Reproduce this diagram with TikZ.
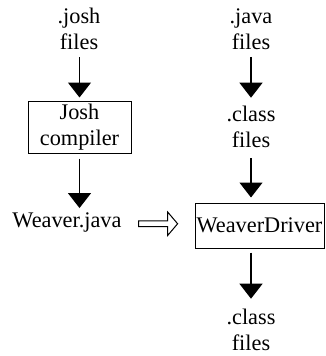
\documentclass[tikz,border=0pt]{standalone}
\usepackage{fontspec}
\setmainfont{Liberation Serif}
\usetikzlibrary{arrows.meta,calc}
\begin{document}
\begin{tikzpicture}[x=1pt,y=-1pt,
  every node/.style={font=\fontsize{22.3}{26.5}\selectfont, align=center, inner sep=0pt},
  label/.style={},
  box/.style={draw, line width=1pt, inner sep=0pt},
  flow/.style={line width=1.2pt, -{Triangle[width=23pt,length=15pt]}},
  hollow/.style={line width=1pt, line join=miter}]
\useasboundingbox (0,0) rectangle (325,356);

% left column: Josh sources through the Josh compiler
\node[label] (josh) at (79,29) {.josh\\files};
\node[box, minimum width=103pt, minimum height=52pt] (jc) at (79.5,127) {Josh\\compiler};
\node[label] (wjava) at (67,222) {Weaver.java};

% right column: Java sources through the weaver driver
\node[label] (java) at (251,29) {.java\\files};
\node[label] (class1) at (251,127) {.class\\files};
\node[box, minimum width=129pt, minimum height=45pt] (wd) at (259.5,225.5) {WeaverDriver};
\node[label] (class2) at (251,330) {.class\\files};

% flow arrows
\draw[flow, shorten <=7pt, shorten >=3pt] (josh.south -| jc.north) -- (jc.north);
\draw[flow, shorten <=5pt, shorten >=4pt] (jc.south) -- (jc.south |- wjava.north);
\draw[flow, shorten <=7pt, shorten >=8pt] (java.south -| class1.north) -- (class1.north);
\draw[flow, shorten <=10pt, shorten >=5pt] (class1.south) -- (class1.south |- wd.north);
\draw[flow, shorten <=4pt, shorten >=10pt] (wd.south -| class2.north) -- (class2.north);

% hollow block arrow feeding Weaver.java to the driver
\coordinate (ha) at ($(wjava.east)!0.5!(wd.west)$);
\draw[hollow] (ha) ++(-19.5,-2.8) -- ++(29,0) -- ++(0,-9) -- ++(10,11.8)
  -- ++(-10,11.8) -- ++(0,-9) -- ++(-29,0) -- cycle;
\end{tikzpicture}
\end{document}
